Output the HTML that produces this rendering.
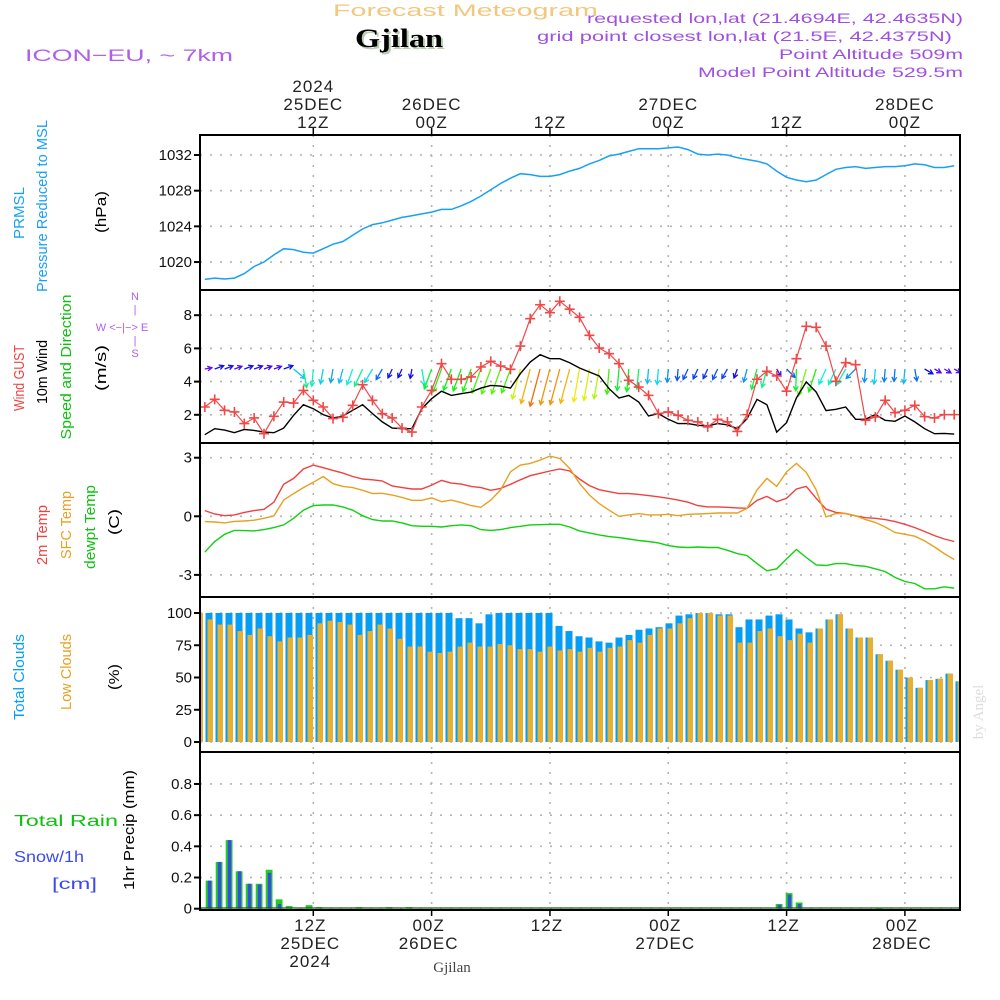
<!DOCTYPE html>
<html><head><meta charset="utf-8"><style>
html,body{margin:0;padding:0;background:#fff;}
svg{display:block;font-family:"Liberation Sans",sans-serif;}
</style></head><body>
<svg id="chart" width="1000" height="1000" viewBox="0 0 1000 1000" xmlns="http://www.w3.org/2000/svg">
<rect width="1000" height="1000" fill="#fff"/>
<g id="header">
<text x="333" y="16" textLength="265" lengthAdjust="spacingAndGlyphs" font-size="17" fill="#f2c77e">Forecast Meteogram</text>
<text x="357" y="49" textLength="88" lengthAdjust="spacingAndGlyphs" font-size="26" font-weight="bold" font-family="Liberation Serif, serif" fill="#b9cdb0">Gjilan</text>
<text x="355" y="47" textLength="88" lengthAdjust="spacingAndGlyphs" font-size="26" font-weight="bold" font-family="Liberation Serif, serif" fill="#000">Gjilan</text>
<text x="25" y="61" textLength="208" lengthAdjust="spacingAndGlyphs" font-size="17" fill="#b060e8">ICON−EU, ~ 7km</text>
<text x="587" y="23" textLength="376" lengthAdjust="spacingAndGlyphs" font-size="14" fill="#a050e0">requested lon,lat (21.4694E, 42.4635N)</text>
<text x="537" y="41" textLength="415" lengthAdjust="spacingAndGlyphs" font-size="14" fill="#a050e0">grid point closest lon,lat (21.5E, 42.4375N)</text>
<text x="779" y="59" textLength="184" lengthAdjust="spacingAndGlyphs" font-size="14" fill="#a050e0">Point Altitude 509m</text>
<text x="698" y="77" textLength="265" lengthAdjust="spacingAndGlyphs" font-size="14" fill="#a050e0">Model Point Altitude 529.5m</text>
</g>
<g id="grid"></g>
<g id="marks"></g>
<g id="frames"></g>
<g id="labels"></g>
<text transform="translate(983,712) rotate(-90)" text-anchor="middle" font-size="15" font-family="Liberation Serif, serif" fill="#ddd">by Angel</text>
<text x="452" y="972" text-anchor="middle" font-size="15" font-family="Liberation Serif, serif" fill="#444">Gjilan</text>
</svg>
<script>
// ---------- data ----------
const pressure = [1018.05,1018.2,1018.1,1018.2,1018.7,1019.5,1020.0,1020.8,1021.5,1021.4,1021.1,1021.0,1021.5,1022.0,1022.3,1023.0,1023.7,1024.2,1024.4,1024.7,1025.0,1025.2,1025.4,1025.6,1025.9,1025.9,1026.3,1026.8,1027.4,1028.1,1028.8,1029.4,1029.9,1029.8,1029.6,1029.6,1029.8,1030.2,1030.5,1031.0,1031.4,1031.9,1032.1,1032.4,1032.7,1032.7,1032.7,1032.8,1032.9,1032.6,1032.1,1032.0,1032.1,1032.0,1031.7,1031.5,1031.3,1031.0,1030.2,1029.5,1029.2,1029.0,1029.2,1029.8,1030.4,1030.6,1030.7,1030.5,1030.6,1030.7,1030.7,1030.8,1031.0,1030.9,1030.6,1030.6,1030.8];
const gust = [2.47,2.93,2.27,2.17,1.47,1.81,0.86,1.91,2.77,2.71,3.47,2.87,2.47,1.77,1.85,2.57,3.81,2.87,2.07,1.81,1.2,0.96,2.47,3.47,5.08,4.14,4.14,4.28,4.88,5.22,4.94,4.74,6.14,7.79,8.63,8.15,8.84,8.36,7.87,6.79,6.02,5.68,5.08,4.08,3.67,3.17,2.07,2.17,1.97,1.67,1.57,1.27,1.73,1.57,1.0,2.01,4.14,4.62,4.34,3.42,5.38,7.33,7.27,6.14,4.02,5.14,5.02,1.67,1.87,2.87,2.13,2.27,2.57,1.89,1.81,2.01,2.01];
const wind10m = [0.8,1.16,1.08,0.92,1.12,1.06,0.96,0.92,1.2,1.97,2.61,2.37,2.01,1.81,1.93,2.27,2.61,2.07,1.57,1.2,1.16,1.16,2.37,2.97,3.42,3.17,3.27,3.37,3.61,3.77,3.73,3.61,4.48,5.18,5.62,5.38,5.38,5.14,4.82,4.58,4.34,3.57,3.01,3.17,2.77,1.93,2.07,1.73,1.47,1.47,1.37,1.33,1.47,1.4,1.16,1.77,2.93,2.61,0.96,1.53,3.01,3.98,3.37,2.25,2.33,2.47,1.73,1.73,2.01,1.67,1.61,1.93,1.57,1.16,0.86,0.88,0.84];
const windAngle = [-10,-20,-20,-20,-20,-20,-20,-20,-20,40,80,95,100,100,105,110,115,120,120,115,115,100,80,110,110,110,110,110,110,110,110,110,105,105,105,105,105,105,100,100,100,95,95,95,95,95,95,95,95,115,115,115,115,120,110,105,105,105,60,45,92,106,108,115,115,120,135,95,95,95,95,95,80,30,30,30,30];
const temp2m = [0.29,0.12,0.03,0.07,0.2,0.29,0.36,0.72,1.64,1.94,2.42,2.62,2.49,2.35,2.21,2.04,1.91,1.87,1.81,1.55,1.47,1.4,1.4,1.6,1.84,1.7,1.65,1.53,1.47,1.33,1.43,1.64,1.87,2.08,2.2,2.32,2.42,2.32,1.91,1.57,1.36,1.26,1.16,1.16,1.12,1.06,1.0,0.92,0.83,0.72,0.55,0.48,0.48,0.46,0.43,0.41,0.82,1.02,0.75,0.92,1.4,1.53,0.92,0.37,0.2,0.14,0.02,-0.07,-0.1,-0.17,-0.27,-0.41,-0.58,-0.78,-0.99,-1.16,-1.29];
const tempSfc = [-0.27,-0.29,-0.34,-0.26,-0.24,-0.2,-0.1,0.02,0.83,1.16,1.47,1.74,2.04,1.67,1.53,1.47,1.33,1.16,1.18,1.09,0.97,0.82,0.82,0.94,0.75,0.83,0.7,0.55,0.46,0.83,1.35,2.28,2.62,2.71,2.88,3.08,2.96,2.45,1.69,1.09,0.65,0.31,0.0,0.07,0.14,0.07,0.07,0.1,0.03,0.1,0.12,0.14,0.17,0.17,0.17,0.41,1.35,1.94,1.53,2.28,2.71,2.25,1.35,-0.03,0.14,0.15,0.03,-0.17,-0.31,-0.55,-0.83,-0.92,-1.02,-1.26,-1.57,-1.91,-2.21];
const dewpt = [-1.84,-1.29,-0.92,-0.72,-0.73,-0.75,-0.68,-0.58,-0.44,-0.1,0.31,0.55,0.58,0.58,0.48,0.31,0.03,-0.17,-0.24,-0.24,-0.34,-0.48,-0.51,-0.51,-0.55,-0.48,-0.44,-0.48,-0.68,-0.72,-0.68,-0.58,-0.51,-0.44,-0.43,-0.41,-0.41,-0.55,-0.75,-0.85,-0.95,-1.04,-1.09,-1.16,-1.24,-1.29,-1.36,-1.5,-1.57,-1.6,-1.57,-1.6,-1.6,-1.74,-1.91,-2.01,-2.42,-2.79,-2.69,-2.18,-1.7,-2.11,-2.49,-2.52,-2.42,-2.42,-2.52,-2.56,-2.69,-2.83,-3.13,-3.34,-3.44,-3.71,-3.71,-3.61,-3.68];
const totalClouds = [100,100,100,100,100,100,100,100,100,100,100,100,100,100,100,100,100,100,100,100,100,100,100,100,100,100,96,96,92,99,100,100,100,100,100,100,90,86,82,81,78,77,81,83,87,88,89,92,98,99,100,100,99,99,89,95,95,98,99,95,88,85,88,95,99,88,81,81,68,63,56,50,42,48,49,53,47];
const lowClouds = [100,95,91,91,86,83,88,82,78,81,81,83,92,94,93,91,83,86,91,88,80,74,74,70,69,70,74,77,74,74,76,75,72,72,70,74,71,72,70,73,70,73,74,79,77,83,88,88,92,96,100,100,98,98,77,77,86,88,82,79,84,77,88,95,99,88,81,81,68,63,56,50,42,48,49,53,47];
const rain = [0,0.18,0.30,0.44,0.24,0.16,0.16,0.25,0.06,0.017,0,0.023,0.01,0,0,0,0.01,0,0,0.01,0,0.01,0,0,0,0,0,0,0,0,0,0,0,0,0,0,0,0,0,0,0,0,0,0,0,0,0,0,0,0,0,0,0,0,0,0,0,0,0.03,0.10,0.04,0,0,0,0,0,0,0,0.005,0,0,0,0,0,0,0,0];
const snow = [0,0.18,0.30,0.44,0.24,0.16,0.155,0.23,0.03,0,0,0,0,0,0,0,0,0,0,0,0,0,0,0,0,0,0,0,0,0,0,0,0,0,0,0,0,0,0,0,0,0,0,0,0,0,0,0,0,0,0,0,0,0,0,0,0,0,0.025,0.09,0.03,0,0,0,0,0,0,0,0,0,0,0,0,0,0,0,0];
const pressTicks = [1020,1024,1028,1032];
const windTicks = [2,4,6,8];
const tempTicks = [-3,0,3];
const cloudTicks = [0,25,50,75,100];
const precipTicks = [0,0.2,0.4,0.6,0.8];
const timeTickHours = [12,24,36,48,60,72];
const topLabels = [["2024","25DEC","12Z"],["","26DEC","00Z"],["","","12Z"],["","27DEC","00Z"],["","","12Z"],["","28DEC","00Z"]];
const bottomLabels = [["12Z","25DEC","2024"],["00Z","26DEC",""],["12Z","",""],["00Z","27DEC",""],["12Z","",""],["00Z","28DEC",""]];

// ---------- scales ----------
const X0=200, X1=960;
const xT = h => 313.3 + (h-12)*9.86;      // time axis (hours from 00Z 25DEC)
const xL = k => xT(k+1);                     // hourly line points
const xB = i => 199 + 10*i;                  // hourly bars
const panels = {
  p:{y0:135,y1:290}, w:{y0:290,y1:443}, t:{y0:443,y1:597}, c:{y0:597,y1:752}, r:{y0:752,y1:910}
};
const yP = v => 155 + (1032-v)*8.92;
const yW = v => 448 - v*16.6;
const yTm = v => 516.3 - v*19.53;
const yC = v => 742 - v*1.29;
const yR = v => 908.7 - v*155.9;

const NS='http://www.w3.org/2000/svg';
function mk(tag, attrs, parent){
  const el=document.createElementNS(NS,tag);
  for(const k in attrs) el.setAttribute(k, attrs[k]);
  parent.appendChild(el);
  return el;
}
const gGrid=document.getElementById('grid');
const gMarks=document.getElementById('marks');
const gFrames=document.getElementById('frames');
const gLabels=document.getElementById('labels');
const defs=mk('defs',{},document.getElementById('chart'));
for(const key in panels){
  const p=panels[key];
  const cp=mk('clipPath',{id:'clip-'+key},defs);
  mk('rect',{x:X0,y:p.y0,width:X1-X0,height:p.y1-p.y0},cp);
}

// grid
function hGrid(ticks, yf, key, fmt, panelName){
  const p=panels[key];
  ticks.forEach(t=>{
    const y=yf(t);
    const ln=mk('line',{x1:X0,x2:X1,y1:y,y2:y,stroke:'#b4b4b4','stroke-width':1.6,'stroke-dasharray':'2 8'},gGrid);
    
    
    const tk=mk('line',{x1:X0-6,x2:X0,y1:y,y2:y,stroke:'#000','stroke-width':2},gFrames);
    
    
    const tx=mk('text',{x:192,y:y+5,'text-anchor':'end','font-size':15,fill:'#111'},gLabels);
    
    
    tx.textContent=fmt(t);
  });
  timeTickHours.forEach(h=>{
    const x=xT(h);
    const ln=mk('line',{x1:x,x2:x,y1:p.y0,y2:p.y1,stroke:'#b4b4b4','stroke-width':1.6,'stroke-dasharray':'2 8'},gGrid);
    
    
  });
}
hGrid(pressTicks,yP,'p',v=>String(v),'pressure');
hGrid(windTicks,yW,'w',v=>String(v),'wind');
hGrid(tempTicks,yTm,'t',v=>String(v),'temp');
hGrid(cloudTicks,yC,'c',v=>String(v),'cloud');
hGrid(precipTicks,yR,'r',v=>v===0?'0':v.toFixed(1),'precip');

// line helper
function line(arr, xf, yf, color, name, key, w){
  const d=arr.map((v,i)=>(i?'L':'M')+xf(i).toFixed(1)+','+yf(v).toFixed(1)).join('');
  const pth=mk('path',{d:d,fill:'none',stroke:color,'stroke-width':w||1.4,'clip-path':'url(#clip-'+key+')'},gMarks);
  
  
}
// pressure
line(pressure,xL,yP,'#19a0f5','pressure-line','p',1.5);

// cloud bars
totalClouds.forEach((v,i)=>{
  const r=mk('rect',{x:xB(i)-3.5,y:yC(v),width:7,height:yC(0)-yC(v),fill:'#069ef5','clip-path':'url(#clip-c)'},gMarks);
  
  
});
lowClouds.forEach((v,i)=>{
  const r=mk('rect',{x:xB(i)-1.5,y:yC(v),width:5.5,height:yC(0)-yC(v),fill:'#e7b030','clip-path':'url(#clip-c)'},gMarks);
  
  
});
// precip bars
rain.forEach((v,i)=>{
  if(v<=0) return;
  const r=mk('rect',{x:xB(i)-3.3,y:yR(v),width:6.8,height:Math.max(1,yR(0)-yR(v)),fill:'#22cc22','clip-path':'url(#clip-r)'},gMarks);
  
  
});
snow.forEach((v,i)=>{
  if(v<=0) return;
  const r=mk('rect',{x:xB(i)-1.2,y:yR(v),width:3.4,height:Math.max(1,yR(0)-yR(v)),fill:'#3a4af0','clip-path':'url(#clip-r)'},gMarks);
  
  
});
mk('line',{x1:X0,x2:X1,y1:908,y2:908,stroke:'#1a5a1a','stroke-width':1.2},gMarks);

// temperatures
line(temp2m,xL,yTm,'#f04040','temp-2m-line','t',1.4);
line(tempSfc,xL,yTm,'#e8a020','temp-sfc-line','t',1.4);
line(dewpt,xL,yTm,'#10d010','dewpoint-line','t',1.4);

// wind arrows
function windHue(s){ return s<3 ? 310-60*s : Math.max(15,130-40*(s-3)); }
windAngle.forEach((a,k)=>{
  const s=wind10m[k];
  const len=6.5*s+2;
  const rad=a*Math.PI/180;
  const x0=xL(k), y0=369;
  const x1=x0+len*Math.cos(rad), y1=y0+len*Math.sin(rad);
  const col='hsl('+windHue(s).toFixed(0)+',90%,50%)';
  const h1=rad+Math.PI-0.5, h2=rad+Math.PI+0.5;
  const d='M'+x0.toFixed(1)+','+y0+'L'+x1.toFixed(1)+','+y1.toFixed(1)+
    'M'+(x1+5*Math.cos(h1)).toFixed(1)+','+(y1+5*Math.sin(h1)).toFixed(1)+'L'+x1.toFixed(1)+','+y1.toFixed(1)+
    'L'+(x1+5*Math.cos(h2)).toFixed(1)+','+(y1+5*Math.sin(h2)).toFixed(1);
  const p=mk('path',{d:d,fill:'none',stroke:col,'stroke-width':1.3,'clip-path':'url(#clip-w)'},gMarks);
  
  
});
line(wind10m,xL,yW,'#000','wind-10m-line','w',1.4);
line(gust,xL,yW,'#f04848','wind-gust-line','w',1.2);
gust.forEach((v,k)=>{
  const x=xL(k), y=yW(v);
  const p=mk('path',{d:'M'+(x-5)+','+y+'H'+(x+5)+'M'+x+','+(y-5)+'V'+(y+5),stroke:'#f04848','stroke-width':1.6,'clip-path':'url(#clip-w)'},gMarks);
  
  
});

// frames
for(const key in panels){
  const p=panels[key];
  const r=mk('rect',{x:X0,y:p.y0,width:X1-X0,height:p.y1-p.y0,fill:'none',stroke:'#000','stroke-width':2},gFrames);
  
  
}
// time ticks + labels
timeTickHours.forEach((h,j)=>{
  const x=xT(h);
  mk('line',{x1:x,x2:x,y1:128,y2:135,stroke:'#000','stroke-width':1.5},gFrames);
  mk('line',{x1:x,x2:x,y1:910,y2:916,stroke:'#000','stroke-width':1.5},gFrames);
  topLabels[j].forEach((t,r)=>{
    if(!t) return;
    const tx=mk('text',{x:x,y:92+r*18,'text-anchor':'middle','font-size':17,fill:'#222','letter-spacing':1},gLabels);
    
    
    tx.textContent=t;
  });
  bottomLabels[j].forEach((t,r)=>{
    if(!t) return;
    const tx=mk('text',{x:x-3,y:931+r*18,'text-anchor':'middle','font-size':17,fill:'#222','letter-spacing':1},gLabels);
    
    
    tx.textContent=t;
  });
});

// rotated y labels
function vlabel(txt,x,y,color,len,name){
  const t=mk('text',{transform:'translate('+x+','+y+') rotate(-90)','text-anchor':'middle','font-size':15,fill:color,textLength:len,lengthAdjust:'spacingAndGlyphs'},gLabels);
  
  
  t.textContent=txt;
}
vlabel('PRMSL',24,213,'#19a0f5',52,'prmsl-label');
vlabel('Pressure Reduced to MSL',47,206,'#19a0f5',172,'pressure-axis-title');
vlabel('(hPa)',106,212,'#000',42,'pressure-unit');
vlabel('Wind GUST',24,378,'#f04040',66,'gust-label');
vlabel('10m Wind',47,372,'#000',64,'wind10m-label');
vlabel('Speed and Direction',71,367,'#10c010',145,'wind-direction-label');
vlabel('(m/s)',106,368,'#000',46,'wind-unit');
vlabel('2m Temp',47,535,'#f04040',60,'temp-2m-label');
vlabel('SFC Temp',71,525,'#e8a020',68,'temp-sfc-label');
vlabel('dewpt Temp',95,527,'#10c010',84,'dewpt-label');
vlabel('(C)',119,522,'#000',26,'temp-unit');
vlabel('Total Clouds',24,677,'#069ef5',86,'total-clouds-label');
vlabel('Low Clouds',71,672,'#e8a020',76,'low-clouds-label');
vlabel('(%)',119,677,'#000',26,'cloud-unit');
vlabel('1hr Precip (mm)',134,830,'#000',120,'precip-axis-title');

const lab=[['Total  Rain',14,826,'#10c010',104,'rain-legend'],['Snow/1h',14,862,'#3a4af0',70,'snow-legend'],['[cm]',52,889,'#3a4af0',45,'snow-unit']];
lab.forEach(l=>{
  const t=mk('text',{x:l[1],y:l[2],'font-size':16,fill:l[3],textLength:l[4],lengthAdjust:'spacingAndGlyphs'},gLabels);
  
  
  t.textContent=l[0];
});
// compass
const comp=[['N',135,300],['W <−|−> E',122,331],['S',135,357],['|',135,313],['|',135,344]];
comp.forEach(c=>{
  const t=mk('text',{x:c[1],y:c[2],'text-anchor':'middle','font-size':11,fill:'#b060e8'},gLabels);
  
  
  t.textContent=c[0];
});
</script>
</body></html>
